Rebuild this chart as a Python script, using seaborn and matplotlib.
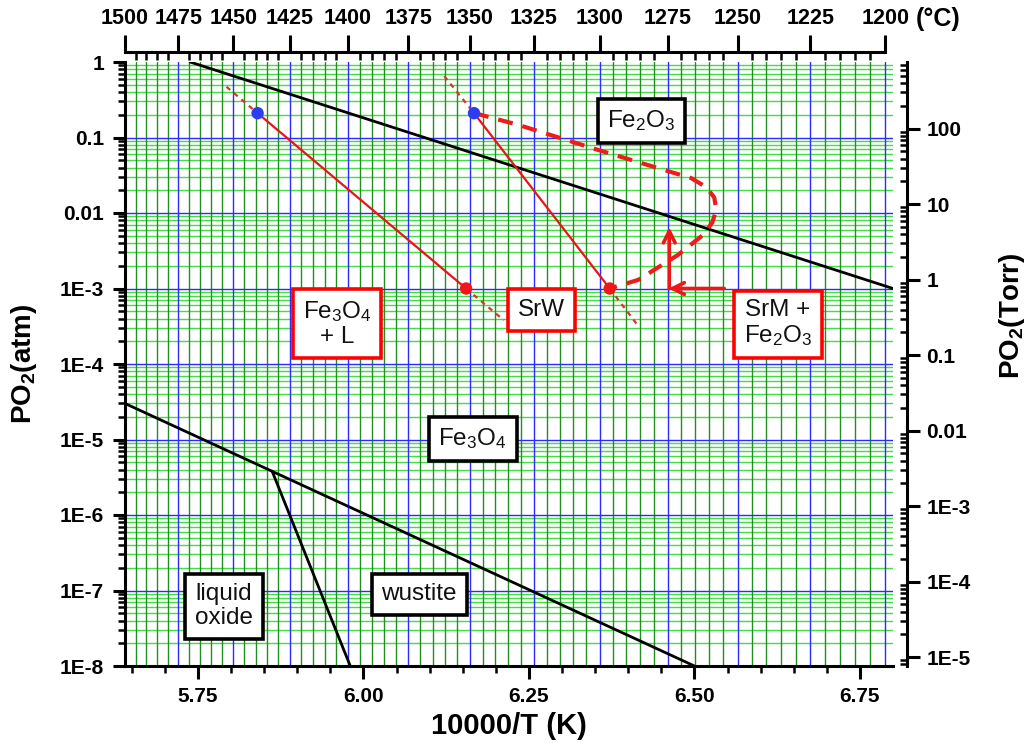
import numpy as np
import matplotlib
matplotlib.use("Agg")
import matplotlib.pyplot as plt
import seaborn as sns
from matplotlib.ticker import FixedLocator, FixedFormatter, LogLocator, NullFormatter

sns.set_theme(style="white")
plt.rcParams['font.family'] = ['Liberation Sans', 'DejaVu Sans']
plt.rcParams['mathtext.fontset'] = 'custom'
plt.rcParams['mathtext.rm'] = 'Liberation Sans'
plt.rcParams['mathtext.bf'] = 'Liberation Sans:bold'
plt.rcParams['mathtext.default'] = 'rm'
plt.rcParams['text.color'] = 'black'
plt.rcParams['axes.labelcolor'] = 'black'

# ---- temperature scale (deg C) shown on the top axis ----
temp_major = [1500, 1475, 1450, 1425, 1400, 1375, 1350, 1325, 1300, 1275, 1250, 1225, 1200]
temp_minor = list(range(1500, 1195, -5))

# ---- bottom axis ticks, 10000/T (K) ----
inv_t_major = [5.75, 6.00, 6.25, 6.50, 6.75]
inv_t_labels = ["5.75", "6.00", "6.25", "6.50", "6.75"]

# ---- PO2 ticks ----
atm_ticks = [1, 1e-1, 1e-2, 1e-3, 1e-4, 1e-5, 1e-6, 1e-7, 1e-8]
atm_labels = ["1", "0.1", "0.01", "1E-3", "1E-4", "1E-5", "1E-6", "1E-7", "1E-8"]
torr_ticks = [100, 10, 1, 0.1, 0.01, 1e-3, 1e-4, 1e-5]
torr_labels = ["100", "10", "1", "0.1", "0.01", "1E-3", "1E-4", "1E-5"]
ATM_TO_TORR = 760.0

# ---- iron oxide phase boundaries: x = 10000/T (K), y = PO2 (atm) ----
hem_mag_x = [5.738, 6.80]
hem_mag_y = [1.0, 1.0e-3]
mag_wus_x = [5.6397, 6.50]
mag_wus_y = [3.0e-5, 1.0e-8]
liq_wus_x = [5.862, 5.980]
liq_wus_y = [3.8e-6, 1.0e-8]

# ---- SrW stability limit ----
srw_x = [5.840, 6.155]
srw_y = [0.21, 1.0e-3]
srw_ext_x = [5.793, 5.840, np.nan, 6.155, 6.212]
srw_ext_y = [0.47, 0.21, np.nan, 1.0e-3, 3.8e-4]

# ---- SrM stability limit ----
srm_x = [6.167, 6.372]
srm_y = [0.21, 1.0e-3]
srm_ext_x = [6.122, 6.167, np.nan, 6.372, 6.415]
srm_ext_y = [0.65, 0.21, np.nan, 1.0e-3, 3.2e-4]

# ---- processing path around the SrM + Fe2O3 field ----
path_x = [6.167, 6.234, 6.355, 6.455, 6.495, 6.518, 6.530, 6.533, 6.527, 6.513, 6.475, 6.415, 6.372]
path_y = [0.211, 0.147, 0.0682, 0.0370, 0.0290, 0.0220, 0.0160, 0.0110, 0.0075, 0.00512, 0.00278, 0.0013, 0.001]

# ---- end points of the measured series ----
blue_pts_x = [5.840, 6.167]
blue_pts_y = [0.21, 0.21]
red_pts_x = [6.155, 6.372]
red_pts_y = [1.0e-3, 1.0e-3]

# ---- field labels ----
field_labels = [
    ("Fe$_2$O$_3$", 6.42, 0.166, "black"),
    ("Fe$_3$O$_4$\n+ L", 5.960, 3.4e-4, "red"),
    ("SrW", 6.269, 5.2e-4, "red"),
    ("SrM +\nFe$_2$O$_3$", 6.626, 3.4e-4, "red"),
    ("Fe$_3$O$_4$", 6.165, 1.02e-5, "black"),
    ("liquid\noxide", 5.789, 6.2e-8, "black"),
    ("wustite", 6.084, 8.9e-8, "black"),
]


def c_to_inv(t_c):
    return 10000.0 / (t_c + 273.15)


W, H = 1033, 746
fig = plt.figure(figsize=(W / 100, H / 100), dpi=100)
ax = fig.add_axes([125 / W, 80 / H, (893 - 125) / W, (666 - 62) / H])
ax.set_yscale("log")
XLIM = (c_to_inv(1500), 6.80)
ax.set_xlim(*XLIM)
ax.set_ylim(1e-8, 1)
ax.set_facecolor("white")

# grid: temperature lines (vertical) and PO2 decades (horizontal)
for t in temp_minor:
    major = (t % 25 == 0)
    ax.axvline(c_to_inv(t), color="#2b2bff" if major else "#1f8f1f",
               lw=1.0, zorder=0.6 if major else 0.5)
for dec in range(-8, 0):
    for m in range(2, 10):
        ax.axhline(m * 10.0 ** dec, color="#3fe03f", lw=1.0, zorder=0.4)
for v in atm_ticks[1:-1]:
    ax.axhline(v, color="#2b2bff", lw=1.0, zorder=0.65)

# phase boundaries
for bx, by in [(hem_mag_x, hem_mag_y), (mag_wus_x, mag_wus_y), (liq_wus_x, liq_wus_y)]:
    sns.lineplot(x=bx, y=by, ax=ax, color="black", lw=2.0, sort=False, estimator=None, zorder=3)

# stability limits of the ferrites
for sx, sy in [(srw_x, srw_y), (srm_x, srm_y)]:
    sns.lineplot(x=sx, y=sy, ax=ax, color="#e8141c", lw=1.6, sort=False, estimator=None, zorder=4)
for ex, ey in [(srw_ext_x, srw_ext_y), (srm_ext_x, srm_ext_y)]:
    ax.plot(ex, ey, color="#d8342a", lw=1.6, ls=(0, (2.2, 2.2)), zorder=4)

# processing path
path_line = sns.lineplot(x=path_x, y=path_y, ax=ax, color="#ee1c1c", lw=3.0,
                         sort=False, estimator=None, zorder=4)
path_line.lines[-1].set_dashes([3.6, 2.4])

# measured end points
sns.scatterplot(x=blue_pts_x, y=blue_pts_y, ax=ax, color="#2e3cf0", s=80,
                edgecolor="none", zorder=6)
sns.scatterplot(x=red_pts_x, y=red_pts_y, ax=ax, color="#ee1616", s=80,
                edgecolor="none", zorder=6)

# arrows at the SrM + Fe2O3 corner
arrow_kw = dict(arrowstyle="->,head_length=0.7,head_width=0.35", color="#ee1616", lw=2.6,
                shrinkA=0, shrinkB=0)
ax.annotate("", xy=(6.462, 6.5e-3), xytext=(6.462, 1.0e-3), arrowprops=arrow_kw, zorder=7)
ax.annotate("", xy=(6.461, 1.0e-3), xytext=(6.545, 1.0e-3), arrowprops=arrow_kw, zorder=7)

# field labels
for txt, lx, ly, ec in field_labels:
    ax.text(lx, ly, txt, ha="center", va="center", fontsize=17.5, color="#111111",
            linespacing=1.1, zorder=8,
            bbox=dict(boxstyle="square,pad=0.4", fc="white", ec=ec, lw=2.6))

# bottom / left axes
ax.xaxis.set_major_locator(FixedLocator(inv_t_major))
ax.xaxis.set_major_formatter(FixedFormatter(inv_t_labels))
ax.xaxis.set_minor_locator(FixedLocator(np.arange(5.65, 6.80, 0.05)))
ax.yaxis.set_major_locator(FixedLocator(atm_ticks))
ax.yaxis.set_major_formatter(FixedFormatter(atm_labels))
ax.yaxis.set_minor_locator(LogLocator(base=10, subs=np.arange(2, 10), numticks=30))
ax.yaxis.set_minor_formatter(NullFormatter())
for side in ["top", "right"]:
    ax.spines[side].set_visible(False)
for side in ["left", "bottom"]:
    ax.spines[side].set_linewidth(2.2)
    ax.spines[side].set_color("black")
ax.tick_params(axis="both", which="major", direction="out", length=9, width=2.2,
               labelsize=15, pad=6, colors="black")
ax.tick_params(axis="both", which="minor", direction="out", length=5, width=1.8, colors="black")
ax.tick_params(axis="x", which="both", bottom=True)
ax.tick_params(axis="y", which="both", left=True)
for lab in ax.get_xticklabels() + ax.get_yticklabels():
    lab.set_fontweight("bold")
ax.set_xlabel("10000/T (K)", fontsize=21, fontweight="bold", color="black")
ax.set_ylabel(r"PO$_\mathbf{2}$(atm)", fontsize=20, fontweight="bold", color="black")
ax.xaxis.set_label_coords(0.5, -0.076)
ax.yaxis.set_label_coords(-0.112, 0.5)

# top axis: temperature in deg C
ax_t = ax.twiny()
ax_t.set_xlim(*XLIM)
ax_t.xaxis.set_major_locator(FixedLocator([c_to_inv(t) for t in temp_major]))
ax_t.xaxis.set_major_formatter(FixedFormatter([str(t) for t in temp_major]))
ax_t.xaxis.set_minor_locator(FixedLocator([c_to_inv(t) for t in temp_minor]))
for side in ["left", "right", "bottom"]:
    ax_t.spines[side].set_visible(False)
ax_t.spines["top"].set_position(("outward", 7))
ax_t.spines["top"].set_bounds(c_to_inv(1500), c_to_inv(1200))
ax_t.spines["top"].set_linewidth(2.2)
ax_t.spines["top"].set_color("black")
ax_t.tick_params(axis="x", which="major", direction="out", length=12, width=2.2,
                 labelsize=15.5, pad=5, colors="black", top=True)
ax_t.tick_params(axis="x", which="minor", direction="in", length=6, width=1.8,
                 colors="black", top=True)
for lab in ax_t.get_xticklabels():
    lab.set_fontweight("bold")
ax_t.grid(False)
fig.text(916 / W, 1 - 19 / H, "(°C)", fontsize=18, fontweight="bold", va="center", ha="left")

# right axis: PO2 in Torr
ax_r = ax.twinx()
ax_r.set_yscale("log")
ax_r.set_ylim(1e-8 * ATM_TO_TORR, 1 * ATM_TO_TORR)
ax_r.yaxis.set_major_locator(FixedLocator(torr_ticks))
ax_r.yaxis.set_major_formatter(FixedFormatter(torr_labels))
ax_r.yaxis.set_minor_locator(LogLocator(base=10, subs=np.arange(2, 10), numticks=30))
ax_r.yaxis.set_minor_formatter(NullFormatter())
for side in ["left", "top", "bottom"]:
    ax_r.spines[side].set_visible(False)
ax_r.spines["right"].set_position(("outward", 10))
ax_r.spines["right"].set_linewidth(2.2)
ax_r.spines["right"].set_color("black")
ax_r.tick_params(axis="y", which="major", direction="out", length=9, width=2.2,
                 labelsize=15, pad=5, colors="black", right=True)
ax_r.tick_params(axis="y", which="minor", direction="in", length=5, width=1.8,
                 colors="black", right=True)
for lab in ax_r.get_yticklabels():
    lab.set_fontweight("bold")
ax_r.set_ylabel(r"PO$_\mathbf{2}$(Torr)", fontsize=20, fontweight="bold", color="black")
ax_r.yaxis.set_label_coords(1.135, 0.58)
ax_r.grid(False)

fig.savefig("out.png", dpi=100, facecolor="white")
